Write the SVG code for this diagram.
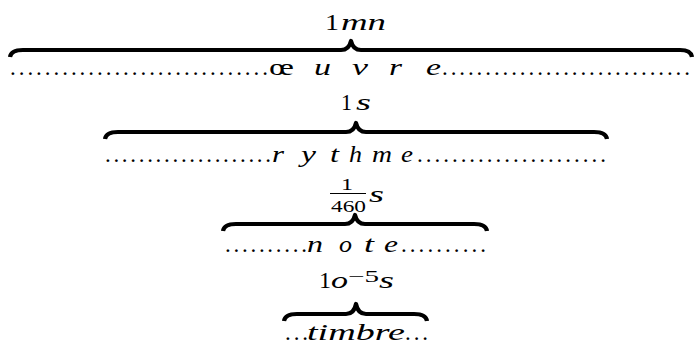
<svg xmlns="http://www.w3.org/2000/svg" width="694" height="345" viewBox="0 0 694 345">
<style>
.t{font-family:"Liberation Serif","Times New Roman","DejaVu Serif","Noto Serif",serif;font-size:23px;fill:#000}
.i{font-style:italic}
.sm{font-size:17px}
.b{fill:none;stroke:#000;stroke-width:4.2;stroke-linejoin:round}
</style>
<rect width="694" height="345" fill="#fff"/>
<g id="level-oeuvre">
<text class="t" x="325" y="30" textLength="14" lengthAdjust="spacingAndGlyphs">1</text>
<text class="t i" x="341" y="30" textLength="45" lengthAdjust="spacingAndGlyphs">mn</text>
<text class="t" x="10" y="75" textLength="258" lengthAdjust="spacing">..............................</text>
<text class="t" x="269" y="75" textLength="25" lengthAdjust="spacingAndGlyphs">œ</text>
<text class="t i" x="314" y="75" textLength="17" lengthAdjust="spacingAndGlyphs">u</text>
<text class="t i" x="352" y="75" textLength="16" lengthAdjust="spacingAndGlyphs">v</text>
<text class="t i" x="389" y="75" textLength="13" lengthAdjust="spacingAndGlyphs">r</text>
<text class="t i" x="426" y="75" textLength="15" lengthAdjust="spacingAndGlyphs">e</text>
<text class="t" x="442" y="75" textLength="248" lengthAdjust="spacing">.............................</text>
</g>
<g id="level-rythme">
<text class="t" x="341" y="110" textLength="11" lengthAdjust="spacingAndGlyphs">1</text>
<text class="t i" x="356" y="110" textLength="15" lengthAdjust="spacingAndGlyphs">s</text>
<text class="t" x="105" y="162" textLength="166" lengthAdjust="spacing">....................</text>
<text class="t i" x="272" y="162" textLength="12" lengthAdjust="spacingAndGlyphs">r</text>
<text class="t i" x="301" y="162" textLength="15" lengthAdjust="spacingAndGlyphs">y</text>
<text class="t i" x="330" y="162" textLength="9" lengthAdjust="spacingAndGlyphs">t</text>
<text class="t i" x="349" y="162" textLength="13" lengthAdjust="spacingAndGlyphs">h</text>
<text class="t i" x="372" y="162" textLength="20" lengthAdjust="spacingAndGlyphs">m</text>
<text class="t i" x="401" y="162" textLength="12" lengthAdjust="spacingAndGlyphs">e</text>
<text class="t" x="417" y="162" textLength="189" lengthAdjust="spacing">......................</text>
</g>
<g id="level-note">
<text class="t sm" x="341" y="190" textLength="12" lengthAdjust="spacingAndGlyphs">1</text>
<line x1="330" y1="193.5" x2="366" y2="193.5" stroke="#000" stroke-width="1.2"/>
<text class="t sm" x="331" y="212" textLength="35" lengthAdjust="spacingAndGlyphs">460</text>
<text class="t i" x="369" y="202" textLength="15" lengthAdjust="spacingAndGlyphs">s</text>
<text class="t" x="225" y="252" textLength="82" lengthAdjust="spacing">..........</text>
<text class="t i" x="307" y="252" textLength="16" lengthAdjust="spacingAndGlyphs">n</text>
<text class="t i" x="339" y="252" textLength="13" lengthAdjust="spacingAndGlyphs">o</text>
<text class="t i" x="364" y="252" textLength="10" lengthAdjust="spacingAndGlyphs">t</text>
<text class="t i" x="384" y="252" textLength="14" lengthAdjust="spacingAndGlyphs">e</text>
<text class="t" x="401" y="252" textLength="85" lengthAdjust="spacing">..........</text>
</g>
<g id="level-timbre">
<text class="t" x="319" y="288" textLength="12" lengthAdjust="spacingAndGlyphs">1</text>
<text class="t i" x="331" y="288" textLength="17" lengthAdjust="spacingAndGlyphs">o</text>
<text class="t sm" x="348" y="282" textLength="31" lengthAdjust="spacingAndGlyphs">−5</text>
<text class="t i" x="379" y="288" textLength="15" lengthAdjust="spacingAndGlyphs">s</text>
<text class="t" x="285" y="340" textLength="23" lengthAdjust="spacing">...</text>
<text class="t i" x="307" y="340" textLength="98" lengthAdjust="spacingAndGlyphs">timbre</text>
<text class="t" x="405" y="340" textLength="23" lengthAdjust="spacing">...</text>
</g>
<g id="connectors">
<path class="b" d="M10 57 Q11 50 23 50 H341 Q349 50 351 41 Q353 50 361 50 H680 Q691 50 692 57"/>
<path class="b" d="M105 139 Q106 132 118 132 H346 Q354 132 356 123 Q358 132 366 132 H594 Q606 132 607 139"/>
<path class="b" d="M223 231 Q224 224 236 224 H345 Q353 224 355 215 Q357 224 365 224 H474 Q486 224 487 231"/>
<path class="b" d="M284 321 Q285 314 297 314 H346 Q354 314 356 304 Q358 314 366 314 H414 Q426 314 427 321"/>
</g>
</svg>
